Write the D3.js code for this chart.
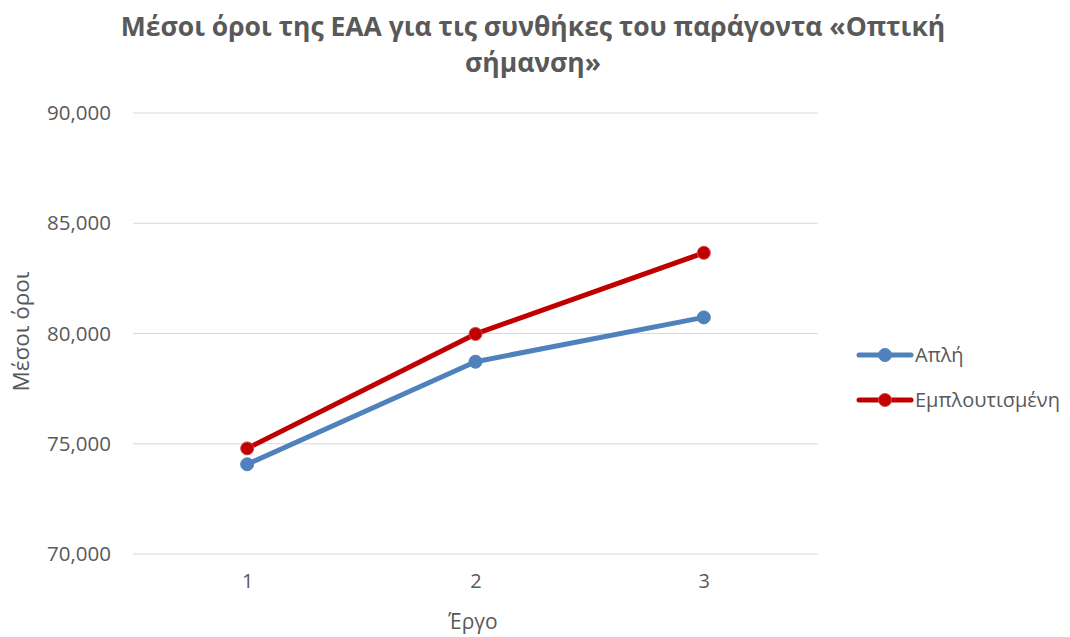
<!DOCTYPE html>
<html>
<head>
<meta charset="utf-8">
<script src="https://cdn.jsdelivr.net/npm/d3@7"></script>
<style>
  html, body { margin: 0; padding: 0; background: #fff; }
  svg { display: block; font-family: "Open Sans", "Liberation Sans", sans-serif; }
</style>
</head>
<body>
<svg id="chart" width="1070" height="637"></svg>
<script>
// Mean scores per task for the two visual-cue conditions
const tasks = ["1", "2", "3"];
const seriesNames = ["Απλή", "Εμπλουτισμένη"];
const simpleValues = [74.07, 78.72, 80.73];
const enrichedValues = [74.79, 79.98, 83.66];
const yTicks = [70, 75, 80, 85, 90];
const colors = ["#4F81BD", "#C00000"];

const titleLines = ["Μέσοι όροι της ΕΑΑ για τις συνθήκες του παράγοντα «Οπτική", "σήμανση»"];
const yTitle = "Μέσοι όροι";
const xTitle = "Έργο";

const svg = d3.select("#chart");
const plot = { left: 133, right: 818, top: 113, bottom: 554 };

const x = d3.scalePoint().domain(tasks).range([plot.left, plot.right]).padding(0.5);
const y = d3.scaleLinear().domain([70, 90]).range([plot.bottom, plot.top]);

const fmt = v => d3.format(".3f")(v).replace(".", ",");
const textColor = "#595959";

// Title
svg.append("g").selectAll("text").data(titleLines).join("text")
  .attr("x", 533).attr("y", (d, i) => 36 + i * 36)
  .attr("text-anchor", "middle")
  .attr("font-size", 26.5).attr("font-weight", "bold")
  .attr("fill", textColor)
  .text(d => d);

// Gridlines
svg.append("g").selectAll("line").data(yTicks).join("line")
  .attr("x1", plot.left).attr("x2", plot.right)
  .attr("y1", d => y(d)).attr("y2", d => y(d))
  .attr("stroke", "#d9d9d9").attr("stroke-width", 1);

// Y axis labels
const yAxis = d3.axisLeft(y).tickValues(yTicks).tickFormat(fmt).tickSize(0).tickPadding(0);
const gy = svg.append("g").attr("transform", `translate(${plot.left - 22},0)`).call(yAxis);
gy.select(".domain").remove();
gy.selectAll("text").attr("font-size", 20.5).attr("fill", textColor)
  .attr("font-family", "'Open Sans', sans-serif");

// X axis labels
const xAxis = d3.axisBottom(x).tickSize(0).tickPadding(0);
const gx = svg.append("g").attr("transform", `translate(0,${plot.bottom + 20})`).call(xAxis);
gx.select(".domain").remove();
gx.selectAll("text").attr("font-size", 20).attr("fill", textColor)
  .attr("font-family", "'Open Sans', sans-serif");

// Axis titles
svg.append("text")
  .attr("transform", `translate(29,${(plot.top + plot.bottom) / 2 - 2}) rotate(-90)`)
  .attr("text-anchor", "middle").attr("font-size", 22.5).attr("fill", textColor)
  .text(yTitle);
svg.append("text")
  .attr("x", 473).attr("y", 629)
  .attr("text-anchor", "middle").attr("font-size", 21).attr("fill", textColor)
  .text(xTitle);

// Series
const series = [simpleValues, enrichedValues];
const line = d3.line().x((d, i) => x(tasks[i])).y(d => y(d));

series.forEach((vals, s) => {
  const g = svg.append("g");
  g.append("path").datum(vals)
    .attr("d", line)
    .attr("fill", "none").attr("stroke", colors[s])
    .attr("stroke-width", 5).attr("stroke-linejoin", "round").attr("stroke-linecap", "round");
  g.selectAll("circle").data(vals).join("circle")
    .attr("cx", (d, i) => x(tasks[i])).attr("cy", d => y(d))
    .attr("r", 6.5).attr("fill", colors[s])
    .attr("stroke", s === 1 ? "#d64545" : colors[s]).attr("stroke-width", 1);
});

// Legend
const legend = svg.append("g");
seriesNames.forEach((name, s) => {
  const ly = 355 + s * 45;
  legend.append("line")
    .attr("x1", 859).attr("x2", 911).attr("y1", ly).attr("y2", ly)
    .attr("stroke", colors[s]).attr("stroke-width", 5).attr("stroke-linecap", "round");
  legend.append("circle").attr("cx", 885).attr("cy", ly).attr("r", 6.5)
    .attr("fill", colors[s]).attr("stroke", s === 1 ? "#d64545" : colors[s]).attr("stroke-width", 1);
  legend.append("text").attr("x", 915).attr("y", ly + 7)
    .attr("font-size", 20).attr("fill", textColor).text(name);
});
</script>
</body>
</html>
